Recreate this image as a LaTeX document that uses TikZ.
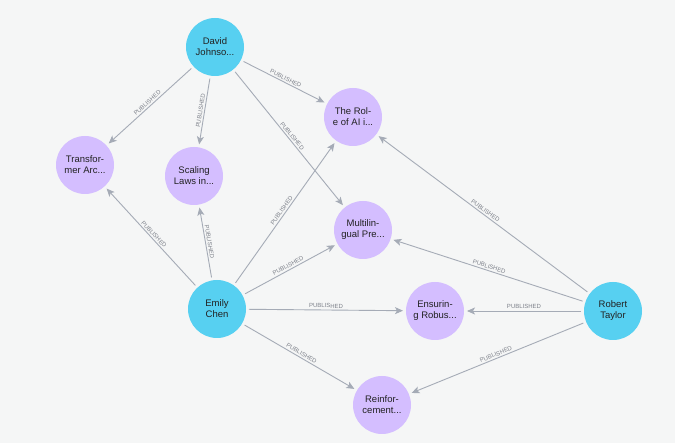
\documentclass[tikz,border=0pt]{standalone}
\usepackage{fontspec}
\setmainfont{Liberation Sans}
\usetikzlibrary{arrows.meta}
\definecolor{bgcol}{HTML}{F5F6F6}
\definecolor{personcol}{HTML}{57D0F1}
\definecolor{papercol}{HTML}{D4BEFF}
\definecolor{edgecol}{HTML}{A5ABB6}
\definecolor{labcol}{HTML}{7D818A}
\definecolor{nodetext}{HTML}{222222}

\begin{document}
\begin{tikzpicture}[x=1pt,y=-1pt,
    person/.style={circle,fill=personcol,minimum size=58pt,inner sep=0pt,outer sep=3pt,align=center,text=nodetext,font=\fontsize{9.5}{11}\selectfont},
    paper/.style={circle,fill=papercol,minimum size=58pt,inner sep=0pt,outer sep=3pt,align=center,text=nodetext,font=\fontsize{9.5}{11}\selectfont},
    rel/.style={-{Stealth[length=8pt,width=7pt,inset=2pt]},draw=edgecol,line width=0.9pt},
    lab/.style={sloped,above,midway,font=\fontsize{6}{6}\selectfont,text=labcol,inner sep=1.5pt}]
  \fill[bgcol] (0,0) rectangle (675,443);

  \node[person] (david) at (215,47) {David\\Johnso...};
  \node[person] (emily) at (217,309) {Emily\\Chen};
  \node[person] (robert) at (613,311) {Robert\\Taylor};

  \node[paper] (role) at (353,117) {The Rol-\\e of AI i...};
  \node[paper] (transf) at (85,165) {Transfor-\\mer Arc...};
  \node[paper] (scaling) at (194,176) {Scaling\\Laws in...};
  \node[paper] (multi) at (363,230) {Multilin-\\gual Pre...};
  \node[paper] (ensur) at (435,311) {Ensurin-\\g Robus...};
  \node[paper] (reinf) at (382,405) {Reinfor-\\cement...};

  \draw[rel] (david) -- node[lab] {PUBLISHED} (transf);
  \draw[rel] (david) -- node[lab] {PUBLISHED} (scaling);
  \draw[rel] (david) -- node[lab] {PUBLISHED} (role);
  \draw[rel] (david) -- node[lab] {PUBLISHED} (multi);

  \draw[rel] (emily) -- node[lab] {PUBLISHED} (transf);
  \draw[rel] (emily) -- node[lab] {PUBLISHED} (scaling);
  \draw[rel] (emily) -- node[lab] {PUBLISHED} (role);
  \draw[rel] (emily) -- node[lab] {PUBLISHED} (multi);
  \draw[rel] (emily) -- node[lab] {PUBLISHED} (ensur);
  \draw[rel] (emily) -- node[lab] {PUBLISHED} (reinf);

  \draw[rel] (robert) -- node[lab] {PUBLISHED} (role);
  \draw[rel] (robert) -- node[lab] {PUBLISHED} (multi);
  \draw[rel] (robert) -- node[lab] {PUBLISHED} (ensur);
  \draw[rel] (robert) -- node[lab] {PUBLISHED} (reinf);
\end{tikzpicture}
\end{document}
